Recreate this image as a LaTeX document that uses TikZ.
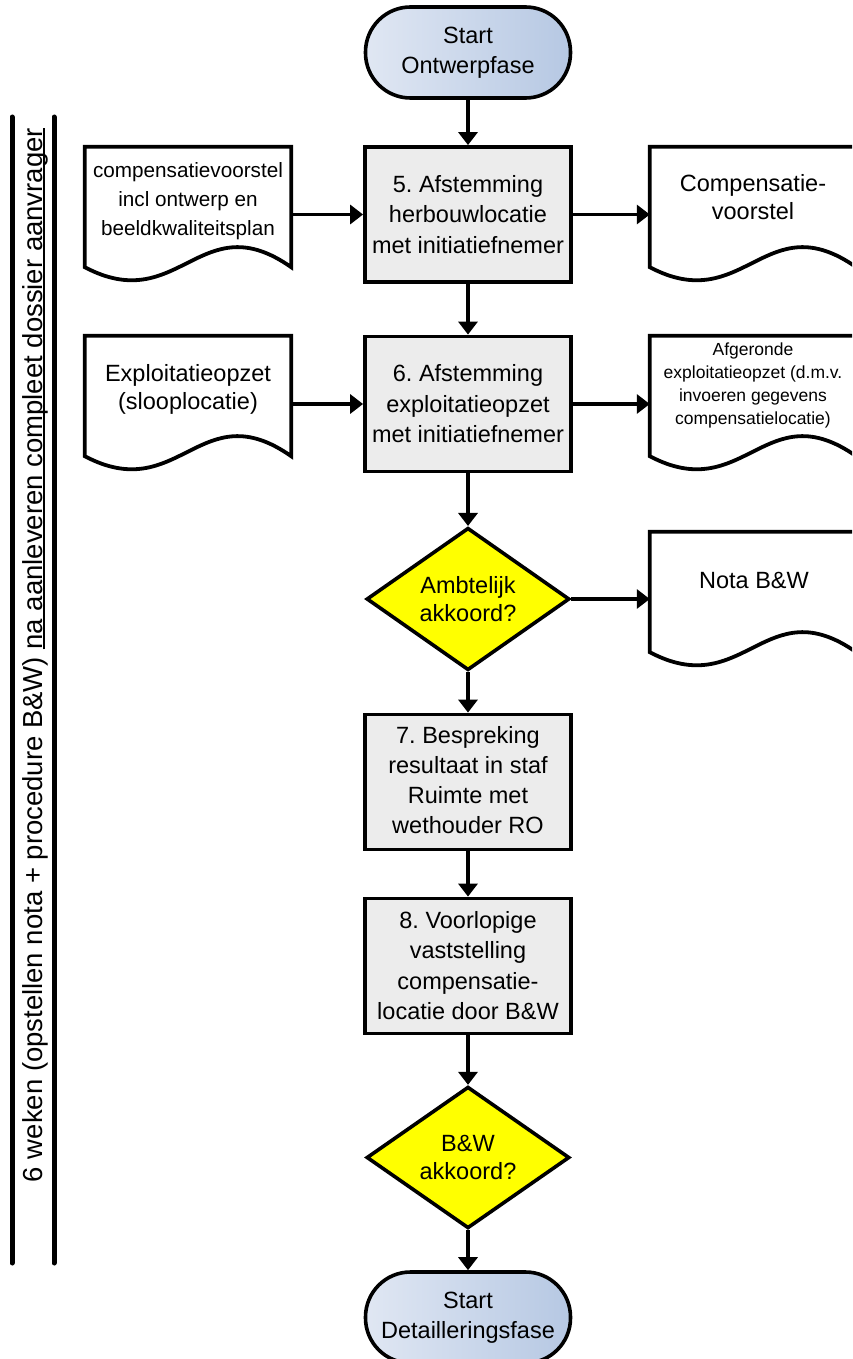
\documentclass[tikz,border=0pt]{standalone}
\usepackage{fontspec}
\setmainfont{Liberation Sans}
\usetikzlibrary{arrows.meta,shapes.geometric,calc}
\definecolor{termA}{RGB}{224,231,243}
\definecolor{termB}{RGB}{182,200,227}
\definecolor{procfill}{RGB}{236,236,236}
\definecolor{decfill}{RGB}{255,255,0}
\newcommand\myul[1]{\leavevmode\setbox0\hbox{#1}\rlap{\rule[-2.6pt]{\wd0}{1.8pt}}\box0}
\tikzset{
  term/.style={draw, line width=3.6pt, rounded corners=45pt, minimum width=205pt,
    minimum height=91pt, inner sep=0pt, align=center, left color=termA, right color=termB,
    font=\fontsize{23.5}{30.5}\selectfont},
  proc/.style={draw, line width=3.8pt, fill=procfill, minimum width=206pt,
    minimum height=135pt, inner sep=0pt, align=center, font=\fontsize{23.5}{30.5}\selectfont},
  dec/.style={diamond, draw, line width=3.6pt, fill=decfill, minimum width=203pt,
    minimum height=134pt, inner sep=0pt, align=center, font=\fontsize{23.5}{28.5}\selectfont},
  docbox/.style={minimum width=206pt, minimum height=120pt, inner sep=0pt},
  doctext/.style={align=center, inner sep=0pt, font=\fontsize{23.5}{28.3}\selectfont},
  docsmall/.style={align=center, inner sep=0pt, font=\fontsize{20.7}{29}\selectfont},
  doctiny/.style={align=center, inner sep=0pt, font=\fontsize{17.5}{23.2}\selectfont},
  docline/.style={line width=3.8pt, fill=white},
  arr/.style={line width=3.3pt, -{Triangle[length=13pt,width=19pt]}},
  sideline/.style={line width=5pt, line cap=round}
}
\newcommand\docshape[1]{%
  \draw[docline] (#1.south east) -- (#1.north east) -- (#1.north west) -- (#1.south west)
    .. controls ($(#1.south west)+(94.5,50)$) and ($(#1.south west)+(115.5,-64)$) .. (#1.south east) -- cycle;}
\begin{document}
\frenchspacing
\begin{tikzpicture}[x=1pt,y=-1pt]
\useasboundingbox (0,0) rectangle (852,1359);
\clip (0,0) rectangle (852,1359);

% side bracket lines and vertical text
\coordinate (l1a) at (12,117);
\coordinate (l1b) at (12,1263);
\coordinate (l2a) at (54,117);
\coordinate (l2b) at (54,1263);
\draw[sideline] (l1a) -- (l1b);
\draw[sideline] (l2a) -- (l2b);
\node[rotate=90, anchor=base, inner sep=0pt, font=\fontsize{27.5}{30}\selectfont\frenchspacing] (vt) at (42.5,655)
  {6 weken (opstellen nota + procedure B\&W) \myul{na aanleveren compleet dossier aanvrager}};

% main column
\node[term] (t1) at (468,52.5) {Start\\Ontwerpfase};
\node[proc] (b5) at (468,214.5) {5. Afstemming\\herbouwlocatie\\met initiatiefnemer};
\node[proc] (b6) at (468,404) {6. Afstemming\\exploitatieopzet\\met initiatiefnemer};
\node[dec] (d1) at (468,599) {Ambtelijk\\akkoord?};
\node[proc] (b7) at (468,782) {};
\node[proc] (b8) at (468,966) {};
\node[dec] (d2) at (468,1157.5) {B\&W\\akkoord?};
\node[term] (t2) at (468,1317.5) {Start\\Detailleringsfase};
\node[align=center, inner sep=0pt, font=\fontsize{23.5}{30}\selectfont] (b7t) at (468,779.7)
  {7. Bespreking\\resultaat in staf\\Ruimte met\\wethouder RO};
\node[align=center, inner sep=0pt, font=\fontsize{23.5}{30.5}\selectfont] (b8t) at (468,965.5)
  {8. Voorlopige\\vaststelling\\compensatie-\\locatie door B\&W};

% documents
\node[docbox] (dL1) at (188,207) {};
\node[docbox] (dR1) at (753,207) {};
\node[docbox] (dL2) at (188,396) {};
\node[docbox] (dR2) at (753,396) {};
\node[docbox] (dN) at (753,592) {};
\docshape{dL1}
\docshape{dR1}
\docshape{dL2}
\docshape{dR2}
\docshape{dN}
\node[docsmall] (dL1t) at (188,201.3) {compensatievoorstel\\incl ontwerp en\\beeldkwaliteitsplan};
\node[doctext] (dR1t) at (753,197.2) {Compensatie-\\voorstel};
\node[doctext] (dL2t) at (188,389.7) {Exploitatieopzet\\(slooplocatie)};
\node[doctiny] (dR2t) at (753,385.3) {Afgeronde\\exploitatieopzet (d.m.v.\\invoeren gegevens\\compensatielocatie)};
\node[doctext, anchor=base] (dNt) at (754,588.3) {Nota B\&W};

% connectors
\draw[arr] (t1.south) -- (b5.north);
\draw[arr] (b5.south) -- (b6.north);
\draw[arr] (b6.south) -- (d1.north);
\draw[arr] (d1.south) -- (b7.north);
\draw[arr] (b7.south) -- (b8.north);
\draw[arr] (b8.south) -- (d2.north);
\draw[arr] (d2.south) -- (t2.north);
\draw[arr] (dL1.east |- b5.east) -- (b5.west);
\draw[arr] (b5.east) -- (b5.east -| dR1.west);
\draw[arr] (dL2.east |- b6.east) -- (b6.west);
\draw[arr] (b6.east) -- (b6.east -| dR2.west);
\draw[arr] (d1.east) -- (d1.east -| dN.west);
\end{tikzpicture}
\end{document}
